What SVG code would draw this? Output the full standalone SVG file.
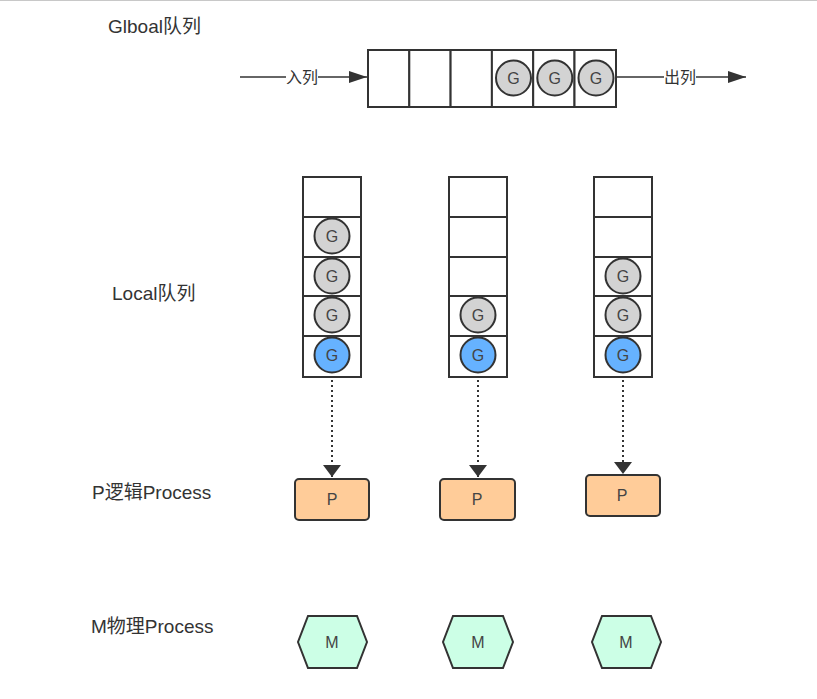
<svg xmlns="http://www.w3.org/2000/svg" width="817" height="699" viewBox="0 0 817 699">
<defs>
<marker id="ahd" viewBox="0 0 10 10" markerWidth="12" markerHeight="18" refX="10" refY="5" orient="auto" markerUnits="userSpaceOnUse" preserveAspectRatio="none"><path d="M0,0 L10,5 L0,10 Z" fill="#333"/></marker>
<marker id="ahh" viewBox="0 0 10 10" markerWidth="18" markerHeight="12" refX="10" refY="5" orient="auto" markerUnits="userSpaceOnUse" preserveAspectRatio="none"><path d="M0,0 L10,5 L0,10 Z" fill="#333"/></marker>
</defs>
<style>
.cell{fill:#fff;stroke:#333;stroke-width:2}
.g{fill:#d3d3d3;stroke:#333;stroke-width:2}
.gb{fill:#66b2ff;stroke:#333;stroke-width:2}
.gt{font-family:"Liberation Sans",Arial,sans-serif;font-size:16px;fill:#444;text-anchor:middle}
.lbl{font-family:"Liberation Sans","Noto Sans CJK SC",sans-serif;font-size:19px;fill:#333}
.el{font-family:"Liberation Sans","Noto Sans CJK SC",sans-serif;font-size:16px;fill:#333;text-anchor:middle}
.p{fill:#ffcc99;stroke:#333;stroke-width:2}
.m{fill:#ccffe6;stroke:#333;stroke-width:2}
.edge{stroke:#333;stroke-width:1.5;fill:none}
.dot{stroke:#333;stroke-width:2;fill:none;stroke-dasharray:2 3}
</style>
<rect x="0" y="0" width="817" height="699" fill="#fff"/>
<line x1="0" y1="0.5" x2="817" y2="0.5" stroke="#c8c8c8" stroke-width="1"/>

<g id="labels">
<text class="lbl" x="108" y="33">Glboal队列</text>
<text class="lbl" x="112" y="300">Local队列</text>
<text class="lbl" x="92" y="499">P逻辑Process</text>
<text class="lbl" x="91" y="633">M物理Process</text>
</g>

<g id="global-queue">
<rect class="cell" x="368" y="50" width="41.3" height="57"/>
<rect class="cell" x="409.3" y="50" width="41.3" height="57"/>
<rect class="cell" x="450.6" y="50" width="41.3" height="57"/>
<rect class="cell" x="491.9" y="50" width="41.3" height="57"/>
<rect class="cell" x="533.2" y="50" width="41.3" height="57"/>
<rect class="cell" x="574.5" y="50" width="41.5" height="57"/>
<circle class="g" cx="513.5" cy="78" r="17.5"/><text class="gt" x="513.5" y="84">G</text>
<circle class="g" cx="554.8" cy="78" r="17.5"/><text class="gt" x="554.8" y="84">G</text>
<circle class="g" cx="596" cy="78" r="17.5"/><text class="gt" x="596" y="84">G</text>
</g>

<g id="local-queue-1">
<rect class="cell" x="303" y="177" width="58" height="40"/>
<rect class="cell" x="303" y="217" width="58" height="40"/>
<rect class="cell" x="303" y="257" width="58" height="39"/>
<rect class="cell" x="303" y="296" width="58" height="40"/>
<rect class="cell" x="303" y="336" width="58" height="41"/>
<circle class="g" cx="332" cy="236" r="17.5"/><text class="gt" x="332" y="242">G</text>
<circle class="g" cx="332" cy="276" r="17.5"/><text class="gt" x="332" y="282">G</text>
<circle class="g" cx="332" cy="315" r="17.5"/><text class="gt" x="332" y="321">G</text>
<circle class="gb" cx="332" cy="355" r="17.5"/><text class="gt" x="332" y="361">G</text>
</g>

<g id="local-queue-2">
<rect class="cell" x="449" y="177" width="58" height="40"/>
<rect class="cell" x="449" y="217" width="58" height="40"/>
<rect class="cell" x="449" y="257" width="58" height="39"/>
<rect class="cell" x="449" y="296" width="58" height="40"/>
<rect class="cell" x="449" y="336" width="58" height="41"/>
<circle class="g" cx="478" cy="315" r="17.5"/><text class="gt" x="478" y="321">G</text>
<circle class="gb" cx="478" cy="355" r="17.5"/><text class="gt" x="478" y="361">G</text>
</g>

<g id="local-queue-3">
<rect class="cell" x="594" y="177" width="58" height="40"/>
<rect class="cell" x="594" y="217" width="58" height="40"/>
<rect class="cell" x="594" y="257" width="58" height="39"/>
<rect class="cell" x="594" y="296" width="58" height="40"/>
<rect class="cell" x="594" y="336" width="58" height="41"/>
<circle class="g" cx="623" cy="276" r="17.5"/><text class="gt" x="623" y="282">G</text>
<circle class="g" cx="623" cy="315" r="17.5"/><text class="gt" x="623" y="321">G</text>
<circle class="gb" cx="623" cy="355" r="17.5"/><text class="gt" x="623" y="361">G</text>
</g>

<g id="p1"><rect class="p" x="295" y="479" width="74" height="41" rx="4"/><text class="gt" x="332" y="505">P</text></g>
<g id="p2"><rect class="p" x="440" y="479" width="75" height="41" rx="4"/><text class="gt" x="477" y="505">P</text></g>
<g id="p3"><rect class="p" x="586" y="475" width="74" height="41" rx="4"/><text class="gt" x="622" y="501">P</text></g>

<g id="m1"><polygon class="m" points="308,616 357,616 367,642 357,668 308,668 298,642"/><text class="gt" x="332" y="648">M</text></g>
<g id="m2"><polygon class="m" points="453,616 503,616 513,642 503,668 453,668 443,642"/><text class="gt" x="478" y="648">M</text></g>
<g id="m3"><polygon class="m" points="602,616 651,616 661,642 651,668 602,668 592,642"/><text class="gt" x="626" y="648">M</text></g>

<g id="connectors">
<line class="edge" x1="240" y1="77" x2="286" y2="77"/>
<line class="edge" x1="318" y1="77" x2="367" y2="77" marker-end="url(#ahh)"/>
<text class="el" x="302" y="83">入列</text>
<line class="edge" x1="617" y1="77" x2="664" y2="77"/>
<line class="edge" x1="696" y1="77" x2="746" y2="77" marker-end="url(#ahh)"/>
<text class="el" x="680" y="83">出列</text>
<line class="dot" x1="332" y1="380" x2="332" y2="477" marker-end="url(#ahd)"/>
<line class="dot" x1="478" y1="380" x2="478" y2="477" marker-end="url(#ahd)"/>
<line class="dot" x1="623" y1="380" x2="623" y2="474" marker-end="url(#ahd)"/>
</g>
</svg>
